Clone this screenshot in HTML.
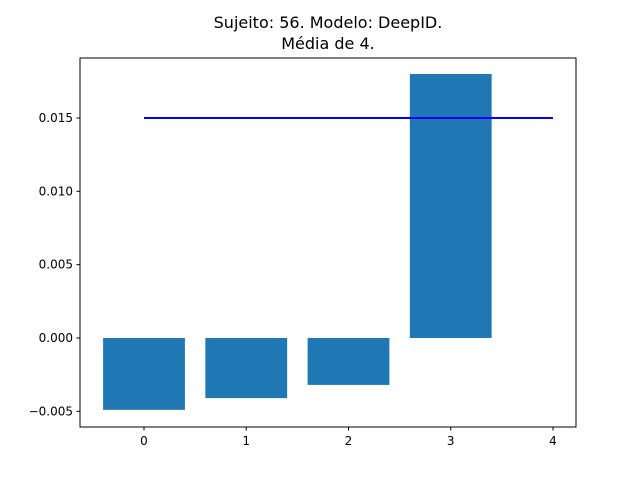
<!DOCTYPE html>
<html><head><meta charset="utf-8"><style>
body{margin:0;background:#fff;}
svg text{font-family:"DejaVu Sans","Liberation Sans",sans-serif;}
</style></head><body>
<svg id="chart" width="640" height="480" viewBox="0 0 640 480">
<rect width="640" height="480" fill="#fff"/>
<text x="328" y="28" font-size="16" text-anchor="middle">Sujeito: 56. Modelo: DeepID.</text>
<text x="328" y="49" font-size="16" text-anchor="middle">Média de 4.</text>
<g id="bars"></g>
<g id="axes"></g>
</svg>
<script>
const categories=[0,1,2,3];
const values=[-0.0049,-0.0041,-0.0032,0.018];
const meanValue=0.015;
const lineStart=0, lineEnd=4;
const yTicks=[-0.005,0.000,0.005,0.010,0.015];
const yTickLabels=["−0.005","0.000","0.005","0.010","0.015"];
const xTicks=[0,1,2,3,4];
const L=80,R=576,T=58,B=427;
const xMin=-0.626,xMax=4.225,yMin=-0.00607,yMax=0.01909;
const X=v=>L+(v-xMin)/(xMax-xMin)*(R-L);
const Y=v=>B-(v-yMin)/(yMax-yMin)*(B-T);
const NS="http://www.w3.org/2000/svg";
const bars=document.getElementById('bars');
const axes=document.getElementById('axes');
function mk(tag,attrs,parent){const e=document.createElementNS(NS,tag);for(const k in attrs)e.setAttribute(k,attrs[k]);parent.appendChild(e);return e;}
categories.forEach((c,i)=>{
 const v=values[i];
 const y0=Y(Math.max(0,v)),y1=Y(Math.min(0,v));
 const r=mk('rect',{x:X(c-0.4),y:y0,width:X(c+0.4)-X(c-0.4),height:y1-y0,fill:'#1f77b4'},bars);
 
 
});
const ln=mk('line',{x1:X(lineStart),x2:X(lineEnd),y1:Y(meanValue),y2:Y(meanValue),stroke:'#0000ff','stroke-width':2},bars);


const fr=mk('rect',{x:L,y:T,width:R-L,height:B-T,fill:'none',stroke:'#000','stroke-width':1},axes);


yTicks.forEach((t,i)=>{
 const y=Y(t);
 mk('line',{x1:L-3.5,x2:L,y1:y,y2:y,stroke:'#000'},axes);
 const tx=mk('text',{x:L-7,y:y+4,'font-size':12,'text-anchor':'end'},axes);
 tx.textContent=yTickLabels[i];
 
 
});
xTicks.forEach(t=>{
 const x=X(t);
 mk('line',{x1:x,x2:x,y1:B,y2:B+3.5,stroke:'#000'},axes);
 const tx=mk('text',{x:x,y:B+18,'font-size':12,'text-anchor':'middle'},axes);
 tx.textContent=t;
 
 
});
</script>
</body></html>
